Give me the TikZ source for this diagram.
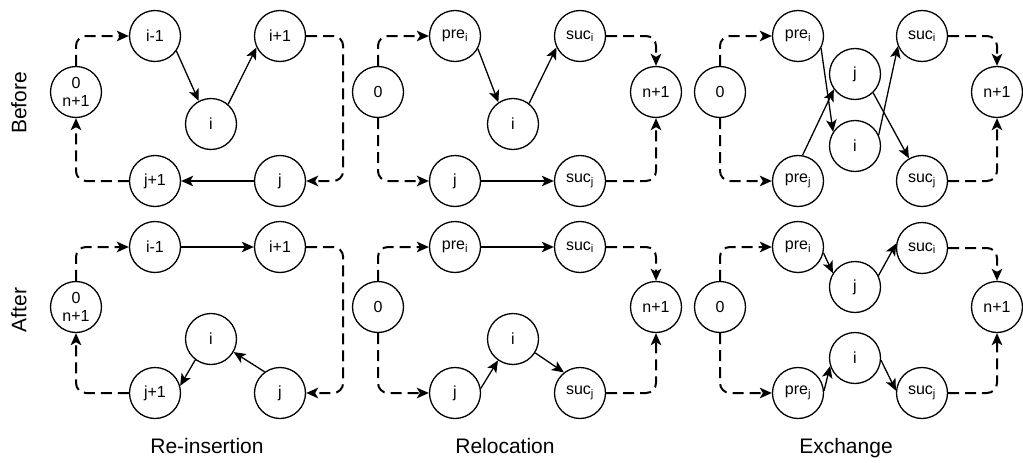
\documentclass[tikz,border=0pt]{standalone}
\usepackage{fontspec}
\setmainfont{Liberation Sans}
\usetikzlibrary{arrows.meta}
\begin{document}
\begin{tikzpicture}[x=1pt,y=-1pt,
  nd/.style={circle,draw,line width=1.3pt,minimum size=51pt,inner sep=0pt,align=center,font=\fontsize{16}{18}\selectfont},
  sl/.style={line width=1.3pt,-{Stealth[length=12pt,width=10.5pt,inset=3pt]}},
  dl/.style={line width=2pt,dash pattern=on 11pt off 6pt,rounded corners=10pt,-{Stealth[length=12pt,width=10.5pt,inset=3pt]}},
  lab/.style={font=\fontsize{21}{24}\selectfont,inner sep=0pt}]
\useasboundingbox (0,0) rectangle (1023,463);

% ---------- Panel 1 : Re-insertion ----------
% Before
\node[nd] (a0) at (76,92) {0\\n+1};
\node[nd] (aim) at (155,36) {i-1};
\node[nd] (aip) at (280,36) {i+1};
\node[nd] (ai) at (211,124) {i};
\node[nd] (ajp) at (155,181) {j+1};
\node[nd] (aj) at (280,181) {j};
\draw[dl] (a0.north) |- (aim.west);
\draw[dl] (aip.east) -- ++(37,0) |- (aj.east);
\draw[dl] (ajp.west) -| (a0.south);
\draw[sl] (aim.-35) -- (ai.118);
\draw[sl] (ai.49) -- (aip.206);
\draw[sl] (aj) -- (ajp);
% After
\node[nd] (b0) at (76,307) {0\\n+1};
\node[nd] (bim) at (155,247) {i-1};
\node[nd] (bip) at (280,247) {i+1};
\node[nd] (bi) at (211,339) {i};
\node[nd] (bjp) at (155,393) {j+1};
\node[nd] (bj) at (280,393) {j};
\draw[dl] (b0.north) |- (bim.west);
\draw[dl] (bip.east) -- ++(37,0) |- (bj.east);
\draw[dl] (bjp.west) -| (b0.south);
\draw[sl] (bim) -- (bip);
\draw[sl] (bj.126) -- (bi.-30);
\draw[sl] (bi.233) -- (bjp.16);

% ---------- Panel 2 : Relocation ----------
% Before
\node[nd] (c0) at (378,92) {0};
\node[nd] (cpi) at (455,36) {pre\textsubscript{i}};
\node[nd] (ci) at (513,124) {i};
\node[nd] (csi) at (580,36) {suc\textsubscript{i}};
\node[nd] (cn) at (656,92) {n+1};
\node[nd] (cj) at (455,181) {j};
\node[nd] (csj) at (580,181) {suc\textsubscript{j}};
\draw[dl] (c0.north) |- (cpi.west);
\draw[dl] (csi.east) -| (cn.north);
\draw[dl] (c0.south) |- (cj.west);
\draw[dl] (csj.east) -| (cn.south);
\draw[sl] (cpi.-29) -- (ci.124);
\draw[sl] (ci.52) -- (csi.206);
\draw[sl] (cj) -- (csj);
% After
\node[nd] (d0) at (378,307) {0};
\node[nd] (dpi) at (455,247) {pre\textsubscript{i}};
\node[nd] (dsi) at (580,247) {suc\textsubscript{i}};
\node[nd] (dn) at (656,307) {n+1};
\node[nd] (di) at (513,339) {i};
\node[nd] (dj) at (455,393) {j};
\node[nd] (dsj) at (580,393) {suc\textsubscript{j}};
\draw[dl] (d0.north) |- (dpi.west);
\draw[dl] (dsi.east) -| (dn.north);
\draw[dl] (d0.south) |- (dj.west);
\draw[dl] (dsj.east) -| (dn.south);
\draw[sl] (dpi) -- (dsi);
\draw[sl] (dj.10) -- (di.235);
\draw[sl] (di.-32) -- (dsj.128);

% ---------- Panel 3 : Exchange ----------
% Before
\node[nd] (e0) at (720,92) {0};
\node[nd] (epi) at (798,36) {pre\textsubscript{i}};
\node[nd] (ej) at (855,74) {j};
\node[nd] (ei) at (855,146) {i};
\node[nd] (esi) at (922,36) {suc\textsubscript{i}};
\node[nd] (en) at (997,92) {n+1};
\node[nd] (epj) at (798,181) {pre\textsubscript{j}};
\node[nd] (esj) at (922,181) {suc\textsubscript{j}};
\draw[dl] (e0.north) |- (epi.west);
\draw[dl] (esi.east) -| (en.north);
\draw[dl] (e0.south) |- (epj.west);
\draw[dl] (esj.east) -| (en.south);
\draw[sl] (epi.-28) -- (ei.147);
\draw[sl] (epj.80) -- (ej.216);
\draw[sl] (ei.25) -- (esi.203);
\draw[sl] (ej.-46) -- (esj.120);
% After
\node[nd] (f0) at (720,307) {0};
\node[nd] (fpi) at (798,247) {pre\textsubscript{i}};
\node[nd] (fj) at (855,287) {j};
\node[nd] (fsi) at (922,248) {suc\textsubscript{i}};
\node[nd] (fn) at (997,307) {n+1};
\node[nd] (fi) at (855,358) {i};
\node[nd] (fpj) at (798,393) {pre\textsubscript{j}};
\node[nd] (fsj) at (922,393) {suc\textsubscript{j}};
\draw[dl] (f0.north) |- (fpi.west);
\draw[dl] (fsi.east) -| (fn.north);
\draw[dl] (f0.south) |- (fpj.west);
\draw[dl] (fsj.east) -| (fn.south);
\draw[sl] (fpi.-13) -- (fj.148);
\draw[sl] (fj.26) -- (fsi.170);
\draw[sl] (fpj.5) -- (fi.198);
\draw[sl] (fi.-5) -- (fsj.175);

% ---------- Labels ----------
\node[lab,rotate=90] (tb) at (19,103) {Before};
\node[lab,rotate=90] (ta) at (19,310) {After};
\node[lab,anchor=base] (t1) at (207,453) {Re-insertion};
\node[lab,anchor=base] (t2) at (505,453) {Relocation};
\node[lab,anchor=base] (t3) at (846,453) {Exchange};
\end{tikzpicture}
\end{document}
